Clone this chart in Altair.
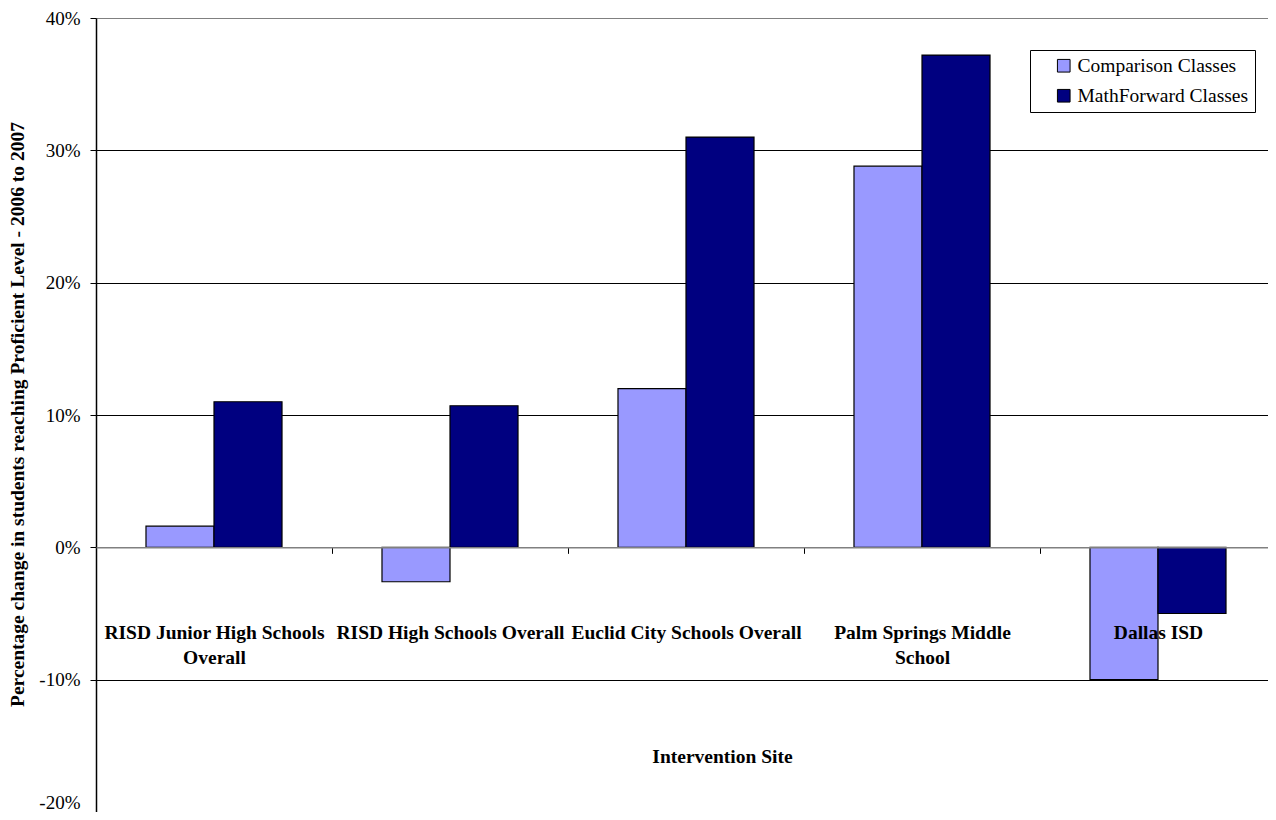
import altair as alt
import pandas as pd

sites = [
    "RISD Junior High Schools\nOverall",
    "RISD High Schools Overall",
    "Euclid City Schools Overall",
    "Palm Springs Middle\nSchool",
    "Dallas ISD",
]
comparison = [0.016, -0.026, 0.120, 0.288, -0.100]
mathforward = [0.110, 0.107, 0.310, 0.372, -0.050]
series = ["Comparison Classes", "MathForward Classes"]
colors = ["#9999FF", "#000080"]
y_ticks = [-0.2, -0.1, 0.0, 0.1, 0.2, 0.3, 0.4]

rows = []
for s, c, m in zip(sites, comparison, mathforward):
    rows.append({"site": s, "series": series[0], "value": c})
    rows.append({"site": s, "series": series[1], "value": m})
df = pd.DataFrame(rows)

FONT = "Liberation Serif"
H = 794

chart = alt.Chart(df).mark_bar(stroke="black", strokeWidth=1.2).encode(
    x=alt.X(
        "site:N",
        sort=sites,
        scale=alt.Scale(paddingInner=0, paddingOuter=0, range=[0, 1180]),
        axis=alt.Axis(
            orient="bottom",
            offset=-H / 3,
            zindex=1,
            domainColor="#808080",
            domainWidth=1.5,
            tickColor="#000000",
            tickSize=6,
            tickBand="extent",
            labelPadding=70,
            labelFont=FONT,
            labelFontWeight="bold",
            labelFontSize=19.5,
            labelLineHeight=25,
            labelColor="black",
            labelExpr="split(datum.label, '\\n')",
            labelLimit=400,
            labelOverlap=False,
            labelAngle=0,
            labelBaseline="top",
            title="Intervention Site",
            titleFont=FONT,
            titleFontSize=19.5,
            titleFontWeight="bold",
            titleColor="black",
            titleX=626,
            titleY=209,
            titleBaseline="middle",
            titleAlign="center",
            grid=False,
        ),
    ),
    xOffset=alt.XOffset(
        "series:N",
        sort=series,
        scale=alt.Scale(paddingInner=0, paddingOuter=0.735),
    ),
    y=alt.Y(
        "value:Q",
        scale=alt.Scale(domain=[-0.2, 0.4], nice=False, zero=False),
        axis=alt.Axis(
            values=y_ticks,
            labelExpr="round(datum.value*100) + '%'",
            domainColor="black",
            domainWidth=1.5,
            tickColor="black",
            tickSize=6,
            labelPadding=10,
            labelFont=FONT,
            labelFontSize=19,
            labelColor="black",
            labelBaseline={
                "condition": {"test": "datum.value < -0.15", "value": "bottom"},
                "value": "middle",
            },
            grid=True,
            gridColor={
                "condition": {
                    "test": "datum.value > 0.35 || datum.value < -0.15",
                    "value": "#808080",
                },
                "value": "black",
            },
            gridWidth=1,
            title="Percentage change in students reaching Proficient Level - 2006 to 2007",
            titleFont=FONT,
            titleFontSize=19.5,
            titleFontWeight="bold",
            titleColor="black",
            titleAngle=270,
            titleX=-79,
            titleY=396,
            titleAlign="center",
            titleBaseline="middle",
        ),
    ),
    color=alt.Color(
        "series:N",
        sort=series,
        scale=alt.Scale(domain=series, range=colors),
        legend=alt.Legend(
            orient="none",
            legendX=934,
            legendY=32,
            title=None,
            strokeColor="black",
            fillColor="white",
            padding=6,
            symbolOffset=18,
            symbolType="square",
            symbolSize=160,
            symbolStrokeColor="black",
            symbolStrokeWidth=1,
            labelFont=FONT,
            labelFontSize=19.5,
            labelColor="black",
            labelOffset=4,
            labelLimit=400,
            rowPadding=9,
        ),
    ),
).properties(
    width=1172,
    height=H,
    autosize=alt.AutoSizeParams(type="none"),
    padding={"left": 88, "top": 10, "right": 0, "bottom": 0},
).configure_view(
    stroke="#808080",
    strokeWidth=1.5,
).configure(
    font=FONT,
)

chart.save("out.html", embed_options={"renderer": "svg", "actions": False})
